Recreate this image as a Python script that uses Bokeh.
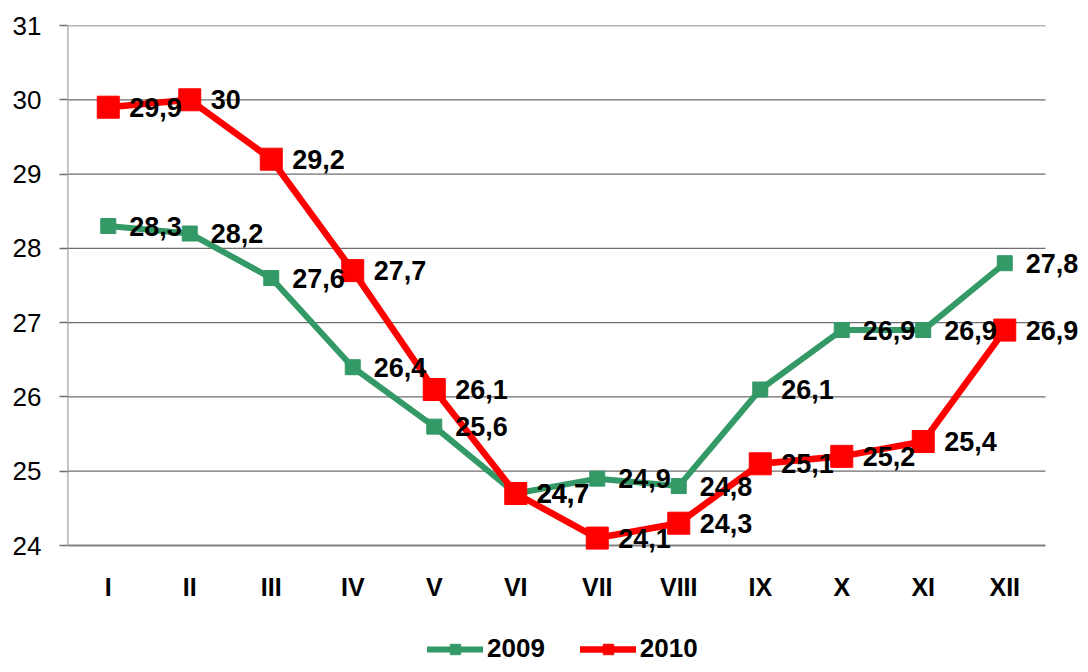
from bokeh.plotting import figure
from bokeh.models import Range1d, FixedTicker, Legend, LegendItem, ColumnDataSource
from bokeh.core.properties import value
from bokeh.embed import file_html
from bokeh.resources import INLINE

months = ["I", "II", "III", "IV", "V", "VI", "VII", "VIII", "IX", "X", "XI", "XII"]
v2009 = [28.3, 28.2, 27.6, 26.4, 25.6, 24.7, 24.9, 24.8, 26.1, 26.9, 26.9, 27.8]
v2010 = [29.9, 30.0, 29.2, 27.7, 26.1, 24.7, 24.1, 24.3, 25.1, 25.2, 25.4, 26.9]
y_ticks = [24, 25, 26, 27, 28, 29, 30, 31]
series_names = ["2009", "2010"]

GREEN = "#339966"
RED = "#ff0000"
FONT = "Liberation Sans"

W, H = 1080, 664
LEFT, TOP = 67, 25
PX_X = 81.5           # pixels per category
PX_Y = 520 / 7.0      # pixels per unit
YMIN, YMAX = 24, 31


def fmt(v):
    s = "%.1f" % v
    if s.endswith(".0"):
        s = s[:-2]
    return s.replace(".", ",")


xs = [i + 0.5 for i in range(len(months))]
src09 = ColumnDataSource(dict(x=xs, y=v2009, t=[fmt(v) for v in v2009]))
src10 = ColumnDataSource(dict(x=xs, y=v2010, t=[fmt(v) for v in v2010]))

frame_w = W - LEFT
frame_h = H - TOP
x_range = Range1d(0, frame_w / PX_X)
y_range = Range1d(YMAX - frame_h / PX_Y, YMAX)

p = figure(width=W, height=H, x_range=x_range, y_range=y_range,
           output_backend="svg", toolbar_location=None,
           min_border_left=LEFT, min_border_right=0, min_border_top=TOP, min_border_bottom=0)
p.outline_line_color = None
p.background_fill_color = "white"
p.xgrid.grid_line_color = None
p.ygrid.grid_line_color = None
p.xaxis.visible = False

# y axis (ticks + labels only; line drawn manually)
p.yaxis.ticker = FixedTicker(ticks=y_ticks)
p.yaxis.axis_line_color = None
p.yaxis.major_tick_line_color = "#6e6e6e"
p.yaxis.major_tick_line_width = 1.3
p.yaxis.major_tick_out = 8
p.yaxis.major_tick_in = 0
p.yaxis.minor_tick_line_color = None
p.yaxis.major_label_text_font = FONT
p.yaxis.major_label_text_font_size = "26px"
p.yaxis.major_label_text_color = "black"
p.yaxis.major_label_standoff = 18

n = len(months)
grid_y = [t for t in y_ticks if t != YMIN]
p.segment(x0=[0] * len(grid_y), y0=grid_y, x1=[n] * len(grid_y), y1=grid_y,
          line_color="#6e6e6e", line_width=1.3)
# axis lines
p.segment(x0=[0], y0=[YMIN], x1=[0], y1=[YMAX], line_color="#808080", line_width=1.8)
p.segment(x0=[0], y0=[YMIN], x1=[n], y1=[YMIN], line_color="#808080", line_width=2.2)

# category labels
p.text(x=xs, y=[YMIN] * n, text=months, y_offset=41, text_align="center", text_baseline="middle",
       text_font=value(FONT), text_font_size="25px", text_font_style="bold", text_color="black")

gl = p.line("x", "y", source=src09, line_color=GREEN, line_width=6, line_cap="round", line_join="round")
gs = p.scatter("x", "y", source=src09, marker="square", size=15, fill_color=GREEN, line_color=GREEN)
rl = p.line("x", "y", source=src10, line_color=RED, line_width=6.5, line_cap="round", line_join="round")
rs = p.scatter("x", "y", source=src10, marker="square", size=22, fill_color=RED, line_color=RED)

for s in (src09, src10):
    p.text("x", "y", text="t", source=s, x_offset=21, text_align="left", text_baseline="middle",
           text_font=value(FONT), text_font_size="27px", text_font_style="bold", text_color="black")

legend = Legend(items=[LegendItem(label=series_names[0], renderers=[gl, gs]),
                       LegendItem(label=series_names[1], renderers=[rl, rs])],
                location=(360, 0), orientation="horizontal",
                glyph_width=56, glyph_height=26, label_standoff=4, spacing=35, padding=0, margin=0,
                border_line_alpha=0, background_fill_alpha=0,
                label_text_font=FONT, label_text_font_size="26px", label_text_font_style="bold",
                label_text_color="black")
p.add_layout(legend, "center")

open("out.html", "w").write(file_html(p, INLINE))
